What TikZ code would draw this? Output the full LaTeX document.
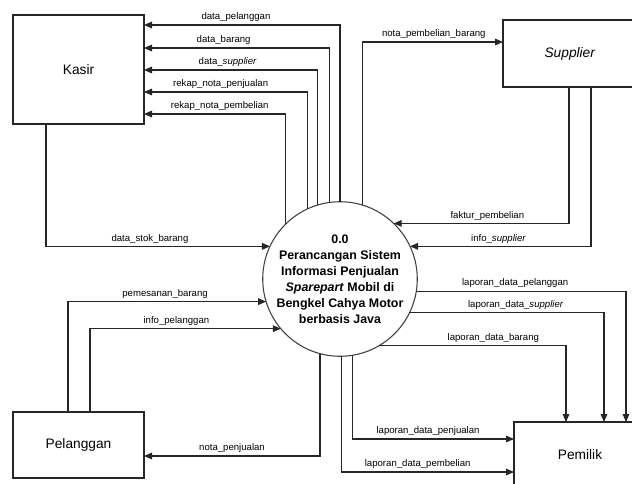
\documentclass[tikz,border=0pt]{standalone}
\usepackage{fontspec}
\setmainfont{Liberation Sans}
\usepackage{tikz}
\usetikzlibrary{arrows.meta}

\begin{document}
\begin{tikzpicture}[x=0.75pt,y=-0.75pt,
	entity/.style={rectangle, draw=black!85, line width=0.8pt, inner sep=0pt, outer sep=0pt, font=\fontsize{10.3}{12}\selectfont},
	proc node/.style={circle, draw=black!75, line width=0.8pt, fill=white, minimum size=115.5pt, inner sep=0pt, outer sep=0pt, align=center, font=\fontsize{9.3}{12}\selectfont\bfseries},
	flow/.style={draw=black!85, line width=0.8pt, -{Triangle[length=6pt,width=5pt]}},
	lbl/.style={above, inner sep=2pt, font=\fontsize{7.2}{8.6}\selectfont}]
			\useasboundingbox (0,0) rectangle (632,483);
			\clip (0,0) rectangle (632,483);
			
			% Nodes
			\node[entity, minimum width=98.25pt, minimum height=81.75pt] (kasir) at (78.5,69.5) {Kasir};
			\node[entity, minimum width=100.5pt, minimum height=50.25pt] (supplier) at (570,53.5) {\textit{Supplier}};
			\node[entity, minimum width=98.25pt, minimum height=49.5pt] (pelanggan) at (78.5,445) {Pelanggan};
			\node[entity, minimum width=99pt, minimum height=49.5pt] (pemilik) at (580,455) {Pemilik};
			\node[proc node] (proc) at (340,279) {0.0\\Perancangan Sistem\\Informasi Penjualan\\\textit{Sparepart} Mobil di\\Bengkel Cahya Motor\\berbasis Java};
			
			% Kasir
			\draw[flow] (proc.90) |- node[lbl, pos=0.75, xshift=-4.5pt] {data\_pelanggan} (kasir.east |- 0,25);
			\draw[flow] (proc.98) |- node[lbl, pos=0.75, xshift=-9.75pt] {data\_barang} (kasir.east |- 0,48);
			\draw[flow] (proc.107) |- node[lbl, pos=0.75, xshift=-2.25pt] {data\_\textit{supplier}} (kasir.east |- 0,70);
			\draw[flow] (proc.115) |- node[lbl, pos=0.75, xshift=-3.75pt] {rekap\_nota\_penjualan} (kasir.east |- 0,92);
			\draw[flow] (proc.135) |- node[lbl, pos=0.75, xshift=3.75pt] {rekap\_nota\_pembelian} (kasir.east |- 0,114);
			\draw[flow] (kasir.south -| 46,0) |- node[lbl, pos=0.75, xshift=-6pt] {data\_stok\_barang} (proc.155);
			
			% Supplier
			\draw[flow] (proc.73) |- node[lbl, pos=0.75, xshift=0.75pt] {nota\_pembelian\_barang} (supplier.west |- 0,42);
			\draw[flow] (supplier.south -| 569,0) |- node[lbl, pos=0.75, xshift=4.5pt] {faktur\_pembelian} (proc.46);
			\draw[flow] (supplier.south -| 591,0) |- node[lbl, pos=0.75, xshift=-1.5pt] {info\_\textit{supplier}} (proc.25);
			
			% Pelanggan
			\draw[flow] (pelanggan.north -| 68,0) |- node[lbl, pos=0.75, xshift=-1.5pt] {pemesanan\_barang} (proc.197);
			\draw[flow] (pelanggan.north -| 90,0) |- node[lbl, pos=0.75, xshift=-6.75pt] {info\_pelanggan} (proc.220);
			\draw[flow] (proc.255) |- node[lbl, pos=0.75] {nota\_penjualan} (pelanggan.east |- 0,456);
			
			% Pemilik
			\draw[flow] (proc.351) -| node[lbl, pos=0.25, xshift=-4.5pt] {laporan\_data\_pelanggan} (pemilik.north -| 626,0);
			\draw[flow] (proc.334) -| node[lbl, pos=0.25, xshift=6.75pt] {laporan\_data\_\textit{supplier}} (pemilik.north -| 604,0);
			\draw[flow] (proc.300) -| node[lbl, pos=0.25, xshift=15.75pt] {laporan\_data\_barang} (pemilik.north -| 566,0);
			\draw[flow] (proc.279) |- node[lbl, pos=0.75, xshift=-3.75pt] {laporan\_data\_penjualan} (pemilik.west |- 0,439);
			\draw[flow] (proc.271) |- node[lbl, pos=0.75, xshift=-7.5pt] {laporan\_data\_pembelian} (pemilik.west |- 0,472);
			
\end{tikzpicture}
\end{document}
